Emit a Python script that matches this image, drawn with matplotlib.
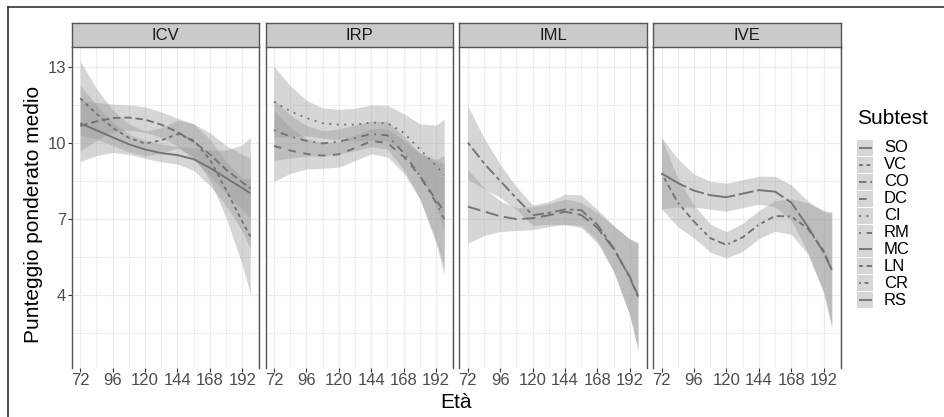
import matplotlib
matplotlib.use('Agg')
import matplotlib.pyplot as plt
from matplotlib.lines import Line2D
from matplotlib.patches import Rectangle

plt.rcParams['font.family'] = ['Liberation Sans', 'DejaVu Sans']

# ---------------- data ----------------
ages = [72, 84, 96, 108, 120, 132, 144, 156, 168, 180, 192, 198]
panels = ['ICV', 'IRP', 'IML', 'IVE']
subtests = ['SO', 'VC', 'CO', 'DC', 'CI', 'RM', 'MC', 'LN', 'CR', 'RS']
panel_subtests = {'ICV': ['SO', 'VC', 'CO'], 'IRP': ['DC', 'CI', 'RM'],
                  'IML': ['MC', 'LN'], 'IVE': ['CR', 'RS']}

so_mean = [10.77, 10.50, 10.22, 9.95, 9.74, 9.60, 9.52, 9.36, 9.02, 8.62, 8.22, 8.02]
so_se   = [1.50, 1.00, 0.60, 0.40, 0.35, 0.35, 0.35, 0.45, 0.70, 1.10, 1.70, 2.20]
vc_mean = [11.76, 11.15, 10.60, 10.20, 9.98, 10.10, 10.35, 10.10, 9.35, 8.15, 6.90, 6.31]
vc_se   = [1.45, 1.00, 0.70, 0.55, 0.50, 0.50, 0.55, 0.65, 0.80, 1.10, 1.70, 2.30]
co_mean = [10.67, 10.85, 10.98, 11.00, 10.92, 10.72, 10.43, 10.05, 9.55, 8.95, 8.45, 8.21]
co_se   = [1.00, 0.75, 0.55, 0.50, 0.50, 0.50, 0.55, 0.70, 0.85, 0.95, 1.10, 1.20]

dc_mean = [9.88, 9.70, 9.57, 9.50, 9.55, 9.80, 10.07, 10.00, 9.46, 8.70, 7.75, 7.30]
dc_se   = [1.40, 0.90, 0.60, 0.50, 0.50, 0.50, 0.50, 0.55, 0.65, 0.90, 1.60, 2.20]
ci_mean = [11.62, 11.25, 10.98, 10.78, 10.72, 10.72, 10.80, 10.78, 10.40, 9.75, 9.10, 8.74]
ci_se   = [1.40, 1.00, 0.70, 0.60, 0.60, 0.65, 0.70, 0.70, 0.75, 1.00, 1.60, 2.20]
rm_mean = [10.51, 10.25, 10.08, 9.98, 10.05, 10.20, 10.35, 10.30, 9.60, 8.70, 7.65, 7.00]
rm_se   = [1.20, 0.85, 0.60, 0.50, 0.50, 0.50, 0.50, 0.55, 0.65, 0.90, 1.60, 2.20]

mc_mean = [7.49, 7.30, 7.11, 7.00, 7.03, 7.15, 7.29, 7.16, 6.65, 5.82, 4.72, 3.98]
mc_se   = [1.45, 0.95, 0.60, 0.45, 0.45, 0.45, 0.50, 0.50, 0.60, 0.90, 1.50, 2.10]
ln_mean = [10.01, 9.20, 8.50, 7.82, 7.15, 7.24, 7.38, 7.35, 6.77, 5.85, 4.69, 3.94]
ln_se   = [1.45, 1.00, 0.65, 0.45, 0.40, 0.45, 0.60, 0.60, 0.60, 0.90, 1.50, 2.10]

cr_mean = [8.80, 7.65, 6.90, 6.25, 5.98, 6.28, 6.78, 7.12, 7.10, 6.64, 5.75, 5.00]
cr_se   = [1.40, 0.95, 0.65, 0.55, 0.52, 0.55, 0.55, 0.60, 0.70, 1.00, 1.60, 2.20]
rs_mean = [8.80, 8.42, 8.12, 7.94, 7.86, 8.00, 8.14, 8.08, 7.65, 6.72, 5.68, 5.00]
rs_se   = [1.40, 0.95, 0.65, 0.55, 0.55, 0.55, 0.55, 0.60, 0.70, 1.00, 1.60, 2.30]

means = {'SO': so_mean, 'VC': vc_mean, 'CO': co_mean, 'DC': dc_mean, 'CI': ci_mean,
         'RM': rm_mean, 'MC': mc_mean, 'LN': ln_mean, 'CR': cr_mean, 'RS': rs_mean}
ses = {'SO': so_se, 'VC': vc_se, 'CO': co_se, 'DC': dc_se, 'CI': ci_se,
       'RM': rm_se, 'MC': mc_se, 'LN': ln_se, 'CR': cr_se, 'RS': rs_se}

x_major = [72, 96, 120, 144, 168, 192]
x_minor = [84, 108, 132, 156, 180, 204]
y_major = [4, 7, 10, 13]
y_minor = [2.5, 5.5, 8.5, 11.5]

# ggplot default linetype sequence (in line-width units)
linetypes = {'SO': None, 'VC': (2, 2), 'CO': (4, 2), 'DC': (4, 4), 'CI': (1, 3),
             'RM': (1, 3, 4, 3), 'MC': (7, 3), 'LN': (2, 2, 6, 2),
             'CR': (1, 2, 2, 2, 3, 2, 4, 2), 'RS': (15, 2, 8, 2)}

# ---------------- style ----------------
W, H = 944, 417
LINE_C = '#737373'
RIB_C = '#999999'
RIB_A = 0.4
BORDER = '#555555'
LW = 1.35
SMALL = 12
BIG = 15


def fx(px):
    return px / W


def fy(py):
    return 1 - py / H


fig = plt.figure(figsize=(W / 100, H / 100), dpi=100)
fig.patch.set_facecolor('white')

p_left0, p_step, p_w = 71.7, 193.8, 187.6
p_top, p_bot = 47.0, 368.0
s_top = 23.0


def draw_line(ax, x, y, key, **kw):
    dash = linetypes[key]
    if dash is None:
        return ax.plot(x, y, color=LINE_C, lw=LW, solid_capstyle='butt', **kw)
    return ax.plot(x, y, color=LINE_C, lw=LW, dashes=dash, dash_capstyle='butt', **kw)


for i, pname in enumerate(panels):
    left = p_left0 + i * p_step
    ax = fig.add_axes([fx(left), fy(p_bot), p_w / W, (p_bot - p_top) / H])
    ax.set_xlim(65.7, 204.6)
    ax.set_ylim(1.13, 13.78)
    ax.set_xticks(x_major)
    ax.set_xticks(x_minor, minor=True)
    ax.set_yticks(y_major)
    ax.set_yticks(y_minor, minor=True)
    ax.grid(which='major', color='#EBEBEB', lw=0.9)
    ax.grid(which='minor', color='#EFEFEF', lw=0.7)
    ax.set_axisbelow(True)
    for side in ['top', 'bottom']:
        ax.spines[side].set_visible(False)
    for side in ['left', 'right']:
        ax.spines[side].set_color(BORDER)
        ax.spines[side].set_linewidth(1.0)
    ax.tick_params(axis='x', which='major', length=2.6, width=0.8, color='#333333',
                   labelsize=SMALL, labelcolor='#4D4D4D', pad=1.3)
    ax.tick_params(axis='x', which='minor', length=0)
    ax.tick_params(axis='y', which='minor', length=0)
    if i == 0:
        ax.tick_params(axis='y', which='major', length=2.6, width=0.8, color='#333333',
                       labelsize=SMALL, labelcolor='#4D4D4D', pad=1.5)
    else:
        ax.tick_params(axis='y', which='major', length=0, labelleft=False)

    for key in panel_subtests[pname]:
        m = means[key]
        s = ses[key]
        lo = [a - b for a, b in zip(m, s)]
        hi = [a + b for a, b in zip(m, s)]
        ax.fill_between(ages, lo, hi, color=RIB_C, alpha=RIB_A, lw=0)
        draw_line(ax, ages, m, key)

    # strip
    sax = fig.add_axes([fx(left), fy(p_top), p_w / W, (p_top - s_top) / H])
    sax.set_facecolor('#CACACA')
    sax.set_xticks([])
    sax.set_yticks([])
    for side in sax.spines.values():
        side.set_color(BORDER)
        side.set_linewidth(1.0)
    sax.text(0.5, 0.5, pname, ha='center', va='center', fontsize=SMALL,
             color='#1A1A1A', transform=sax.transAxes)

# axis titles
fig.text(fx(34), fy(214), 'Punteggio ponderato medio', rotation=90,
         ha='center', va='center', fontsize=BIG, color='black')
fig.text(fx(456), fy(402), 'Età', ha='center', va='center', fontsize=BIG, color='black')

# legend
fig.text(fx(857), fy(118), 'Subtest', ha='left', va='center', fontsize=BIG, color='black')
for j, key in enumerate(subtests):
    c = 148 + j * 16.9
    fig.add_artist(Rectangle((fx(857), fy(c + 8)), 16 / W, 16 / H, transform=fig.transFigure,
                             facecolor=RIB_C, alpha=RIB_A, lw=0))
    dash = linetypes[key]
    if dash is None:
        ln = Line2D([fx(858.5), fx(871.5)], [fy(c), fy(c)], transform=fig.transFigure,
                    color=LINE_C, lw=LW, solid_capstyle='butt')
    else:
        ln = Line2D([fx(858.5), fx(871.5)], [fy(c), fy(c)], transform=fig.transFigure,
                    color=LINE_C, lw=LW, dashes=dash, dash_capstyle='butt')
    fig.add_artist(ln)
    fig.text(fx(884), fy(c), key, ha='left', va='center', fontsize=SMALL, color='black')

# outer frame lines of the cropped page
fig.add_artist(Line2D([fx(8), 1], [fy(7), fy(7)], transform=fig.transFigure,
                      color='#333333', lw=1.2))
fig.add_artist(Line2D([fx(8), fx(8)], [fy(7), 0], transform=fig.transFigure,
                      color='#333333', lw=1.2))

fig.savefig('out.png', dpi=100, facecolor='white')
